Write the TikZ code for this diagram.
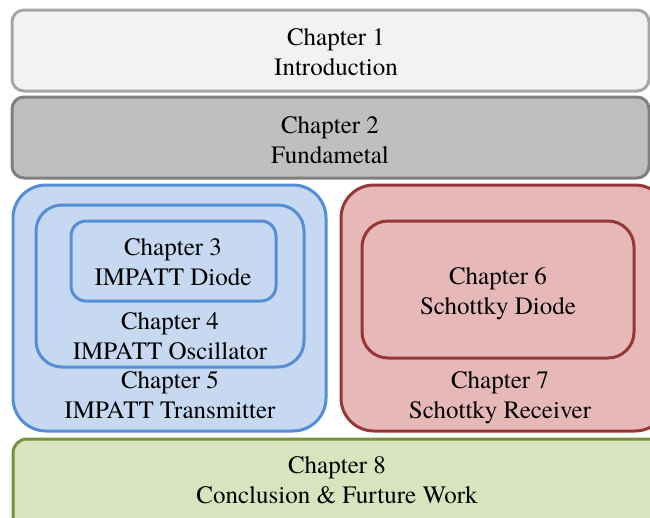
\documentclass[tikz,border=0pt]{standalone}
\usepackage{fontspec}
\setmainfont{TeX Gyre Termes}
\definecolor{g1f}{HTML}{F2F2F2}\definecolor{g1d}{HTML}{A6A6A6}
\definecolor{g2f}{HTML}{BFBFBF}\definecolor{g2d}{HTML}{7F7F7F}
\definecolor{bf}{HTML}{C6D9F1}\definecolor{bd}{HTML}{558ED5}
\definecolor{rf}{HTML}{E6B9B8}\definecolor{rd}{HTML}{953735}
\definecolor{gf}{HTML}{D7E4BD}\definecolor{gd}{HTML}{77933C}
\begin{document}
\begin{tikzpicture}[x=1pt,y=-1pt,
  boxs/.style={line width=3pt},
  lbl/.style={align=center,inner sep=0pt,font=\fontsize{25}{30}\selectfont}]
\useasboundingbox (0,0) rectangle (650,517);
\clip (0,0) rectangle (650,517);
% boxes
\draw[boxs,fill=g1f,draw=g1d,rounded corners=12pt] (12,10) rectangle (649,91);
\draw[boxs,fill=g2f,draw=g2d,rounded corners=12pt] (12,97) rectangle (649,178);
\draw[boxs,fill=bf,draw=bd,rounded corners=33pt] (13,185) rectangle (326,431);
\draw[boxs,fill=bf,draw=bd,rounded corners=26pt] (36,205) rectangle (304,367);
\draw[boxs,fill=bf,draw=bd,rounded corners=15pt] (71,221) rectangle (276,301);
\draw[boxs,fill=rf,draw=rd,rounded corners=33pt] (341,185) rectangle (668,431);
\draw[boxs,fill=rf,draw=rd,rounded corners=26pt] (362,221) rectangle (634,358);
\draw[boxs,fill=gf,draw=gd,rounded corners=14pt] (13,439) rectangle (668,530);
% texts
\node[lbl] (c1) at (336,52) {Chapter 1\\Introduction};
\node[lbl] (c2) at (330,140) {Chapter 2\\Fundametal};
\node[lbl] (c3) at (173,262) {Chapter 3\\IMPATT Diode};
\node[lbl] (c4) at (170,336) {Chapter 4\\IMPATT Oscillator};
\node[lbl] (c5) at (170,395) {Chapter 5\\IMPATT Transmitter};
\node[lbl] (c6) at (498,294) {Chapter 6\\Schottky Diode};
\node[lbl] (c7) at (500,398) {Chapter 7\\Schottky Receiver};
\node[lbl] (c8) at (337,480) {Chapter 8\\Conclusion \& Furture Work};
\end{tikzpicture}
\end{document}
